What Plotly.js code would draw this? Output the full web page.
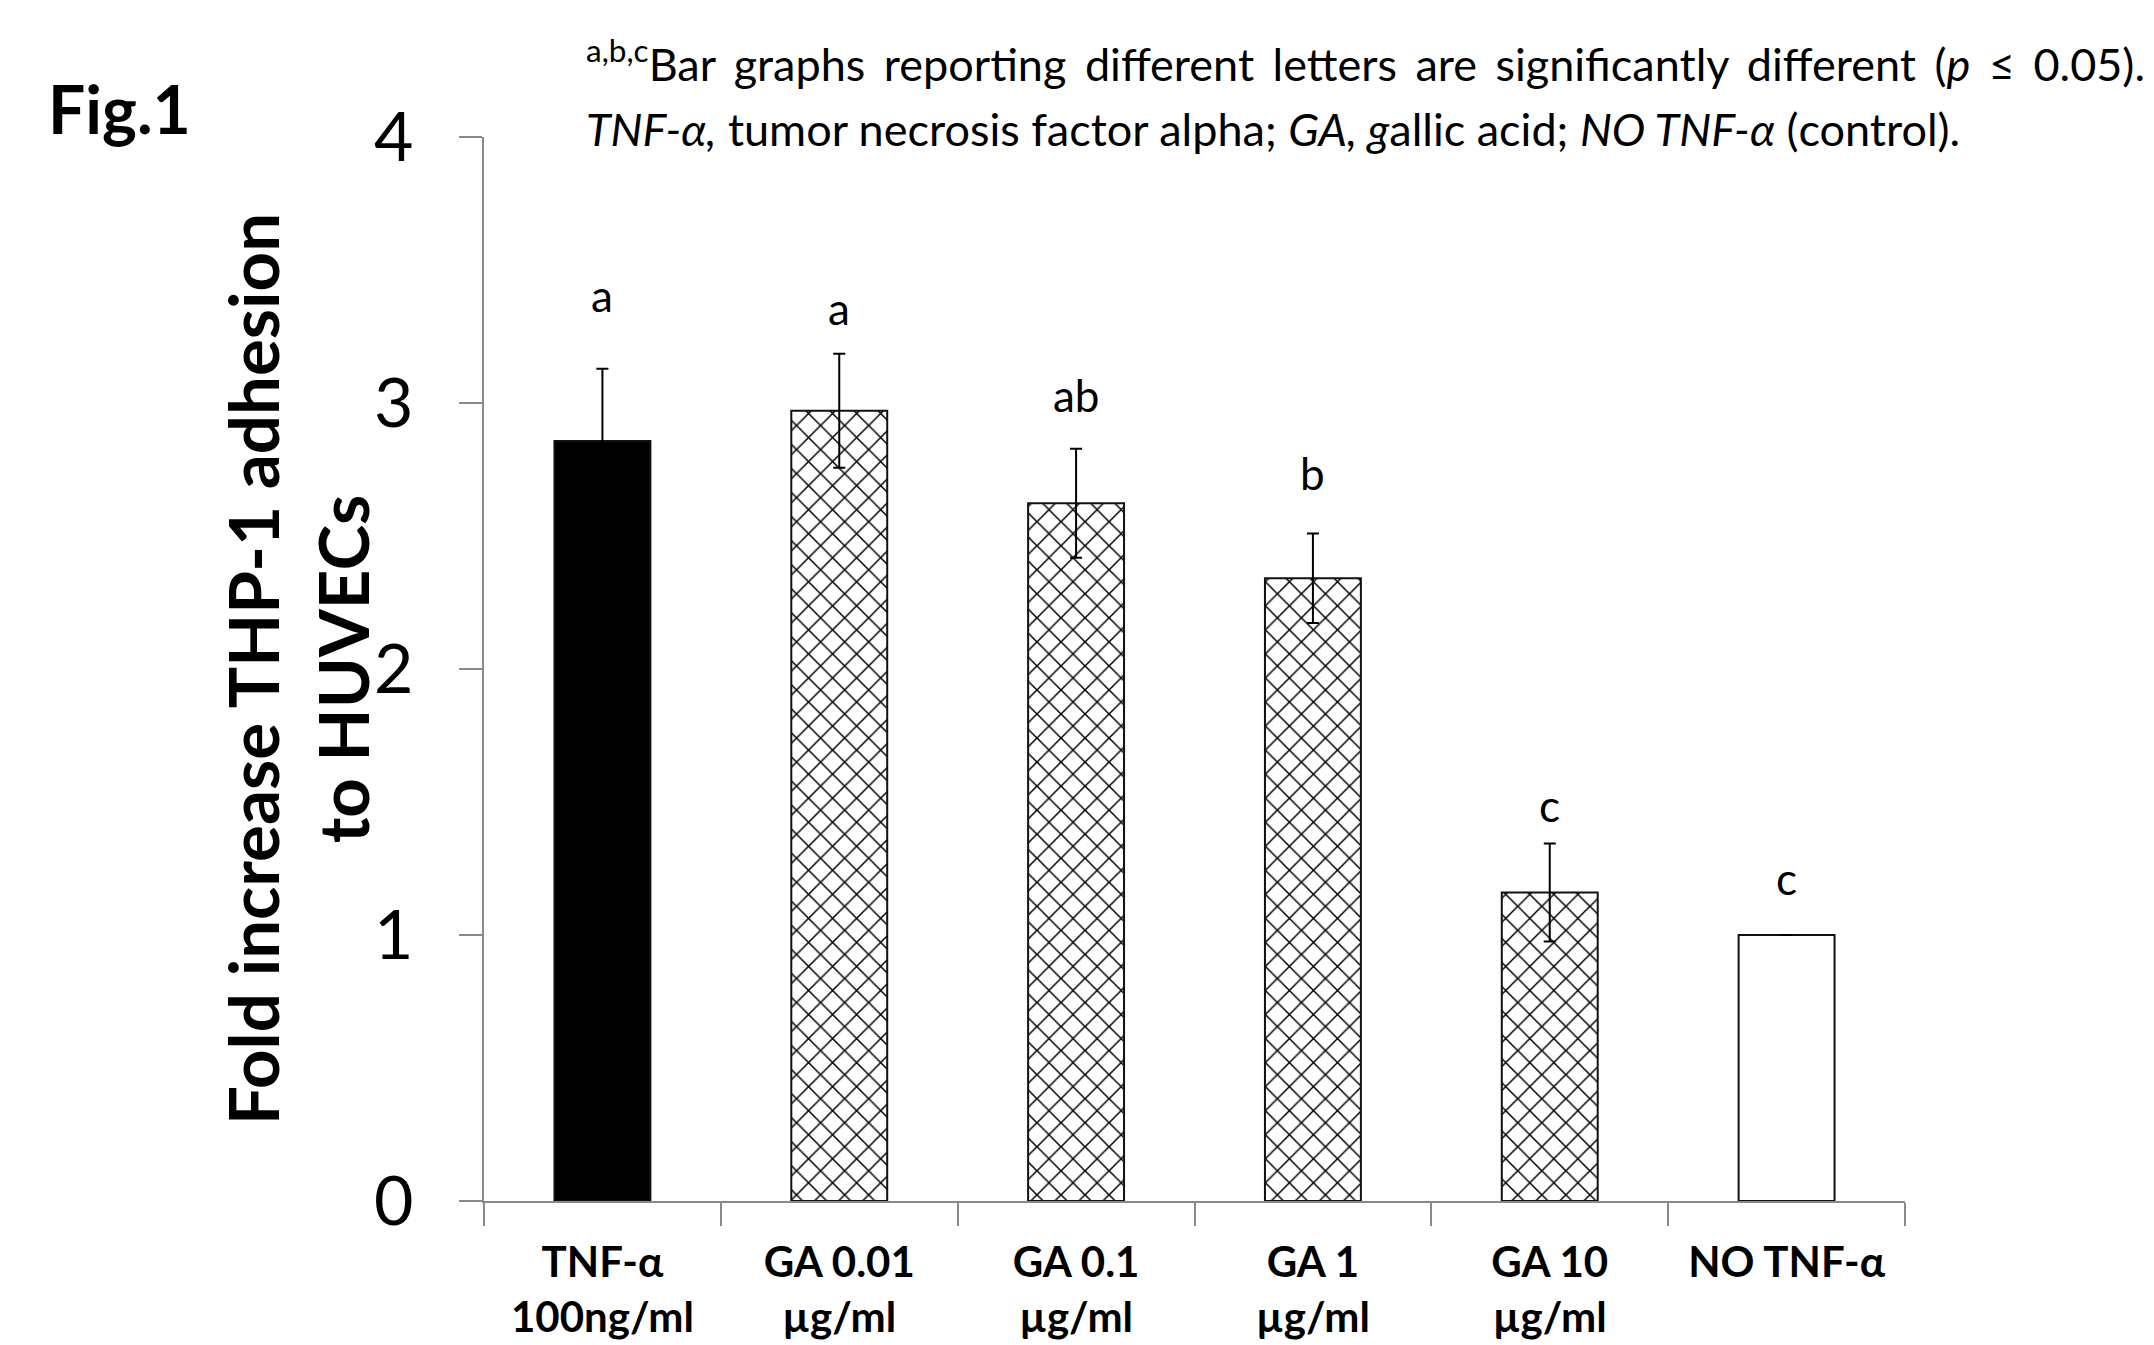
<!DOCTYPE html>
<html>
<head>
<meta charset="utf-8">
<script src="https://cdn.plot.ly/plotly-3.0.1.min.js"></script>
<style>html,body{margin:0;padding:0;background:#fff;}#chart{width:2154px;height:1345px;}</style>
</head>
<body>
<div id="chart"></div>
<script>
// ---- data ----
const categories = ['TNF-α<br>100ng/ml', 'GA 0.01<br>µg/ml', 'GA 0.1<br>µg/ml', 'GA 1<br>µg/ml', 'GA 10<br>µg/ml', 'NO TNF-α'];
const foldIncrease = [2.857, 2.971, 2.623, 2.341, 1.160, 1.000];
const errorValues = [0.272, 0.214, 0.205, 0.168, 0.184, 0];
const letters = ['a', 'a', 'ab', 'b', 'c', 'c'];
const yTickVals = [0, 1, 2, 3, 4];
const yTickText = ['0', '1', '2', '3', '4'];
const yTitle = 'Fold increase THP-1 adhesion<br>to HUVECs';

// ---- style / layout ----
const FONT = "Lato, 'Open Sans', 'Noto Sans', 'DejaVu Sans', sans-serif";
const L = 484, R = 1905, T = 137, B = 1201;
const W = R - L, H = B - T;
function px(x) { return (x - L) / W; }
function py(y) { return (B - y) / H; }

// bar groups: solid TNF-α, hatched GA doses, open control
const groups = [
  { idx: [0], color: '#000000', pattern: '' },
  { idx: [1, 2, 3, 4], color: '#ffffff', pattern: 'x' },
  { idx: [5], color: '#ffffff', pattern: '' }
];
const letterShiftPx = [46, 18, 26, 33, 11, 29];
const AXIS_GRAY = '#898989';

const traces = groups.map(g => ({
  type: 'bar',
  x: g.idx.map(i => categories[i]),
  y: g.idx.map(i => foldIncrease[i]),
  width: 0.405,
  marker: {
    color: g.color,
    line: { color: '#111111', width: 2 },
    pattern: { shape: g.pattern, fgcolor: '#000000', bgcolor: '#ffffff', size: 17, solidity: 0.17, fillmode: 'replace' }
  },
  error_y: { type: 'data', array: g.idx.map(i => errorValues[i]), visible: true, color: '#000000', thickness: 2, width: 6 },
  hoverinfo: 'x+y'
}));

const note1 = '<span style="word-spacing:7px"><sup>a,b,c</sup>Bar graphs reporting different letters are significantly different (<i>p</i> ≤ 0.05).</span>';
const note2 = '<i>TNF-α,</i> tumor necrosis factor alpha; <i>GA, g</i>allic acid; <i>NO TNF-α</i> (control).';

const annotations = letters.map((t, i) => ({
  x: categories[i], y: foldIncrease[i] + errorValues[i], xref: 'x', yref: 'y',
  text: t, showarrow: false, yanchor: 'bottom', yshift: letterShiftPx[i],
  font: { family: FONT, size: 44, color: '#000' }
}));
annotations.push(
  { xref: 'paper', yref: 'paper', x: px(46), y: py(108), xanchor: 'left', yanchor: 'middle',
    text: '<b>Fig.1</b>', showarrow: false, font: { family: FONT, size: 66, color: '#000' } },
  { xref: 'paper', yref: 'paper', x: px(584), y: py(93), xanchor: 'left', yanchor: 'bottom',
    text: note1, showarrow: false, font: { family: FONT, size: 45, color: '#000' } },
  { xref: 'paper', yref: 'paper', x: px(584), y: py(158), xanchor: 'left', yanchor: 'bottom',
    text: note2, showarrow: false, font: { family: FONT, size: 45, color: '#000' } },
  { xref: 'paper', yref: 'paper', x: px(297), y: py(669), xanchor: 'center', yanchor: 'middle', textangle: -90,
    text: '<b>' + yTitle + '</b>', showarrow: false, font: { family: FONT, size: 69, color: '#000' } }
);

const layout = {
  width: 2154, height: 1345,
  margin: { l: L, r: 2154 - R, t: T, b: 1345 - B, pad: 0 },
  paper_bgcolor: '#ffffff', plot_bgcolor: '#ffffff',
  showlegend: false, barmode: 'overlay',
  font: { family: FONT, color: '#000' },
  xaxis: {
    type: 'category', categoryorder: 'array', categoryarray: categories,
    tickson: 'boundaries', ticks: 'outside', ticklen: 23, tickwidth: 2, tickcolor: AXIS_GRAY,
    showline: true, linecolor: AXIS_GRAY, linewidth: 2, showgrid: false, zeroline: false,
    tickfont: { family: FONT, size: 42, color: '#000', weight: 'bold' },
    ticklabelstandoff: 24, tickangle: 0, fixedrange: true
  },
  yaxis: {
    range: [0, 4], tickvals: yTickVals, ticktext: yTickText, ticks: 'outside', ticklen: 23, tickwidth: 2, tickcolor: AXIS_GRAY,
    showline: true, linecolor: AXIS_GRAY, linewidth: 2, showgrid: false, zeroline: false,
    tickfont: { family: FONT, size: 68, color: '#000' }, ticklabelstandoff: 32, fixedrange: true
  },
  annotations: annotations
};

Plotly.newPlot('chart', traces, layout, { displayModeBar: false, staticPlot: true });
</script>
</body>
</html>
